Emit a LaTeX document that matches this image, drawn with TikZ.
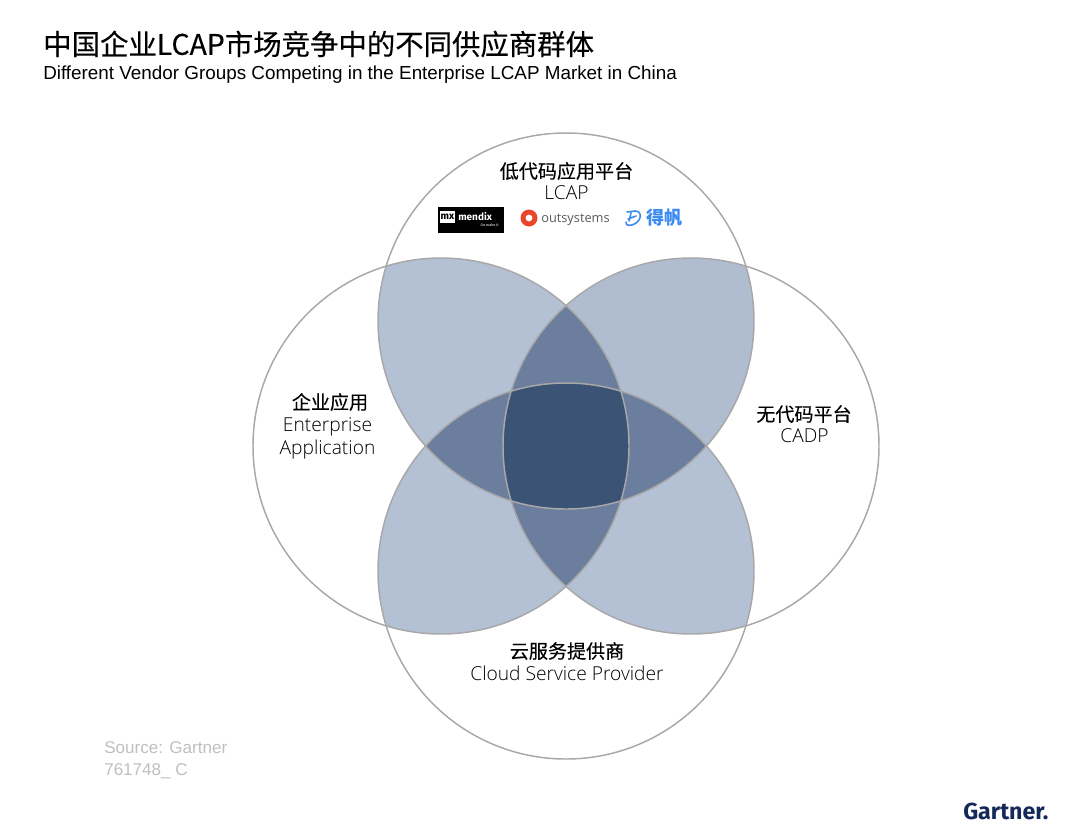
\documentclass[tikz,border=0pt]{standalone}
\usepackage{fontspec}
\setmainfont{Liberation Sans}
\newfontfamily\cjk{Noto Sans CJK SC}
\newfontfamily\cjkm[FakeBold=0.25]{Noto Sans CJK SC}
\newfontfamily\lat{Open Sans Light}
\newfontfamily\latn{Open Sans}
\newfontfamily\latb{Fira Sans}
\definecolor{petal}{HTML}{B4C0D4}
\definecolor{petalb}{HTML}{B0BCCF}
\definecolor{mid}{HTML}{6C7E9E}
\definecolor{core}{HTML}{3B5375}
\definecolor{ring}{HTML}{A8A8A8}
\definecolor{navy}{HTML}{14295A}
\definecolor{fan}{HTML}{3D8BF2}
\definecolor{os}{HTML}{E9472B}
\def\cT{(566,321) circle (188)}
\def\cL{(441,446) circle (188)}
\def\cR{(691,446) circle (188)}
\def\cB{(566,571) circle (188)}

\begin{document}
\begin{tikzpicture}[x=0.75pt,y=-0.75pt,
  ring/.style={draw=ring,line width=1.1pt},
  zh/.style={font=\cjkm\fontsize{14.3}{16}\selectfont,text=black,inner sep=0pt},
  en/.style={font=\lat\fontsize{14.4}{17}\selectfont,text=black,inner sep=0pt},
  src/.style={font=\fontsize{12.8}{14}\selectfont,text=black!25,inner sep=0pt,anchor=west}]
  \useasboundingbox (0,0) rectangle (1080,833);
  % two circles overlap, then three, then all four
  \foreach \p/\q/\col in {\cT/\cL/petal,\cT/\cR/petalb,\cB/\cL/petal,\cB/\cR/petal} {
    \begin{scope} \clip \p; \fill[\col] \q; \end{scope} }
  \foreach \p/\q/\r in {\cT/\cL/\cR,\cT/\cL/\cB,\cT/\cR/\cB,\cL/\cR/\cB} {
    \begin{scope} \clip \p; \clip \q; \fill[mid] \r; \end{scope} }
  \begin{scope} \clip \cT; \clip \cL; \clip \cR; \fill[core] \cB; \end{scope}
  \foreach \c in {\cT,\cL,\cR,\cB} \draw[ring] \c;
  % heading
  \node[anchor=west,inner sep=0pt,font=\cjkm\fontsize{21.3}{24}\selectfont] (title) at (43,44) {中国企业LCAP市场竞争中的不同供应商群体};
  \node[anchor=west,inner sep=0pt,font=\fontsize{14.14}{17}\selectfont] (subtitle) at (43,75) {Different Vendor Groups Competing in the Enterprise LCAP Market in China};
  % circle labels
  \node[zh] (topzh) at (566.5,171) {低代码应用平台};
  \node[en] (topen) at (566.5,192.5) {LCAP};
  \node[zh] (leftzh) at (330,402) {企业应用};
  \node[en] (lefta) at (327.5,427) {Enterprise};
  \node[en] (leftb) at (327.5,449.5) {Application};
  \node[zh] (rightzh) at (804,414) {无代码平台};
  \node[en] (righten) at (804.5,436) {CADP};
  \node[zh] (botzh) at (567,651) {云服务提供商};
  \node[en] (boten) at (567,673.5) {Cloud Service Provider};
  % vendor marks
  \node[fill=black,minimum width=49.5pt,minimum height=19.5pt,inner sep=0pt] (mendix) at (471,220) {};
  \node[fill=white,minimum width=11pt,minimum height=9pt,inner sep=0pt,font=\latb\bfseries\fontsize{7.5}{8}\selectfont,text=black] (mx) at (447.5,217) {mx};
  \node[anchor=west,inner sep=0pt,text=white,font=\latb\bfseries\fontsize{7.5}{8}\selectfont] (mendixtxt) at (458,217) {mendix};
  \node[anchor=east,inner sep=0pt,text=white,font=\latb\fontsize{2.8}{3}\selectfont] (gomake) at (499,225.5) {Go make it};
  \fill[os] (529,218) circle (8.5);
  \fill[white] (529,218) circle (3.4);
  \node[anchor=west,inner sep=0pt,text=black!65,font=\latn\fontsize{9.6}{11}\selectfont] (outsys) at (541,220) {outsystems};
  \draw[fan,line width=1.2pt,line cap=round] (627,212) -- (635,211) .. controls (643,211) and (642,222) .. (632,225) .. controls (627,226) and (625,224) .. (626,222) (628,219) -- (636,216) (631,213) -- (629,221);
  \node[anchor=west,inner sep=0pt,text=fan,font=\cjk\fontsize{13.6}{15}\selectfont\bfseries] (defan) at (646.5,217.5) {得帆};
  % footer
  \node[src] (source) at (104,748) {Source: Gartner};
  \node[src] (docno) at (104,771) {761748\_ C};
  \node[anchor=west,inner sep=0pt,text=navy,font=\latb\bfseries\fontsize{17.4}{19}\selectfont] (gartner) at (963,811) {Gartner.};
\end{tikzpicture}
\end{document}
